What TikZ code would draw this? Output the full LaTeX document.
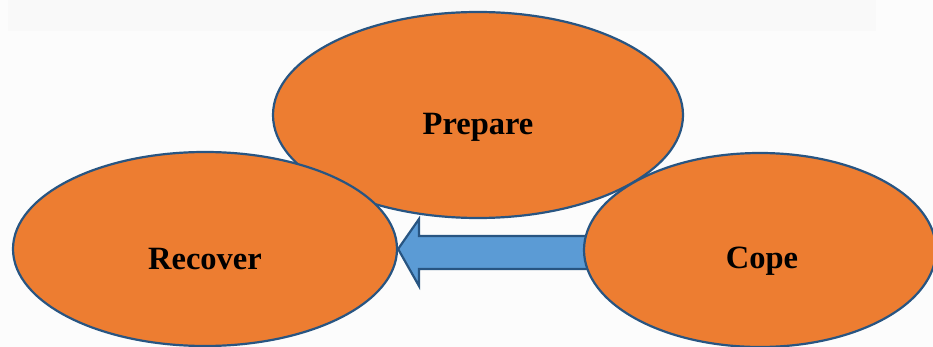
\documentclass[tikz,border=0pt]{standalone}
\usepackage{fontspec}
\setmainfont{Liberation Serif}
\usetikzlibrary{shapes.geometric}
\definecolor{bgc}{RGB}{252,252,252}
\definecolor{bandc}{RGB}{249,249,249}
\definecolor{orangefill}{RGB}{237,125,49}
\definecolor{outlineblue}{RGB}{40,85,130}
\definecolor{arrowblue}{RGB}{91,155,213}
\tikzset{
  blob/.style={ellipse, draw=outlineblue, line width=2.2pt, fill=orangefill, inner sep=0pt},
  lbl/.style={anchor=base, font=\fontsize{32.5}{37}\selectfont\bfseries, text=black, inner sep=0pt},
  blockarrow/.style={draw=outlineblue, line width=2.2pt, fill=arrowblue, line join=miter}
}
\begin{document}
\begin{tikzpicture}[x=1pt,y=-1pt]
\useasboundingbox (0,0) rectangle (933,347);
\fill[bgc] (0,0) rectangle (933,347);
\fill[bandc] (8,0) rectangle (876,31);
% Prepare
\node[blob, minimum width=410pt, minimum height=206pt] (prep) at (478,115) {};
\node[lbl] (preptxt) at (478,135) {Prepare};
% Recover
\node[blob, minimum width=384pt, minimum height=194pt] (rec) at (205,249) {};
\node[lbl] (rectxt) at (205,269) {Recover};
% Block arrow from Cope to Recover
\coordinate (tip) at (rec.east);
\draw[blockarrow] (tip) -- (419,219) -- (419,236) -- (590,236) -- (590,269) -- (419,269) -- (419,286) -- cycle;
% Cope
\node[blob, minimum width=352pt, minimum height=194pt] (cope) at (760,250) {};
\node[lbl] (copetxt) at (762,268) {Cope};
\end{tikzpicture}
\end{document}
